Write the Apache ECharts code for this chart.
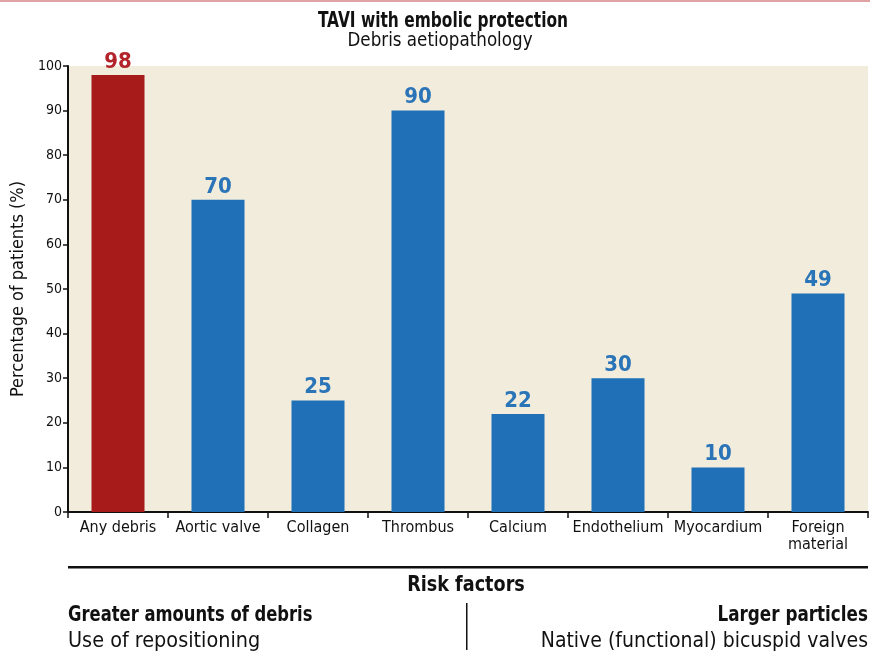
<!DOCTYPE html>
<html>
<head>
<meta charset="utf-8">
<script src="https://cdn.jsdelivr.net/npm/echarts@6/dist/echarts.min.js"></script>
<style>
html,body{margin:0;padding:0;background:#fff;}
#c{width:870px;height:657px;}
</style>
</head>
<body>
<div id="c"></div>
<script>
var categories = ['Any debris','Aortic valve','Collagen','Thrombus','Calcium','Endothelium','Myocardium','Foreign\nmaterial'];
var values = [98, 70, 25, 90, 22, 30, 10, 49];
var highlightIndex = [0];
var yTicks = [0,10,20,30,40,50,60,70,80,90,100];
var titleText = 'TAVI with embolic protection';
var subtitleText = 'Debris aetiopathology';
var yAxisName = 'Percentage of patients (%)';
var riskTitle = 'Risk factors';
var leftHead = 'Greater amounts of debris';
var leftBody = 'Use of repositioning';
var rightHead = 'Larger particles';
var rightBody = 'Native (functional) bicuspid valves';

var FONT = '"Liberation Sans Narrow","DejaVu Sans Condensed","Roboto Condensed",sans-serif';
var RED = '#a81b1b', BLUE = '#1f70b6';
var RED_L = '#b2242a', BLUE_L = '#2a74b8';

var chart = echarts.init(document.getElementById('c'), null, {renderer:'canvas'});
var data = values.map(function(v,i){
  var hi = highlightIndex.indexOf(i) >= 0;
  return {value:v, itemStyle:{color: hi?RED:BLUE}, label:{color: hi?RED_L:BLUE_L}};
});
function txt(s, x, y, size, bold, align, sx){
  return {type:'text', x:x, y:y, scaleX:sx, scaleY:1, z:10,
    style:{text:s, font:(bold?'bold ':'')+size+'px '+FONT, fill:'#111', align:align, verticalAlign:'middle'}};
}
chart.setOption({
  animation:false,
  textStyle:{fontFamily:FONT},
  grid:{left:68, right:2, top:66, bottom:145, show:true, backgroundColor:'#f1ecdc', borderWidth:0, outerBoundsMode:'none', containLabel:false},
  xAxis:{
    type:'category', data:categories,
    axisLine:{lineStyle:{color:'#111', width:2}},
    axisTick:{show:true, alignWithLabel:false, length:6, lineStyle:{color:'#111', width:1.5}},
    axisLabel:{fontFamily:FONT, fontSize:16, color:'#111', margin:7, lineHeight:17, interval:0},
    splitLine:{show:false}
  },
  yAxis:{
    type:'value', min:0, max:100, interval:10,
    name:yAxisName, nameLocation:'middle', nameGap:39, nameRotate:90,
    nameTextStyle:{fontFamily:FONT, fontSize:18, color:'#111'},
    axisLine:{show:true, lineStyle:{color:'#111', width:2}},
    axisTick:{show:true, length:5, lineStyle:{color:'#111', width:1.5}},
    axisLabel:{fontFamily:FONT, fontSize:14, color:'#111', margin:6,
      formatter:function(v){ return yTicks.indexOf(v)>=0 ? String(v) : ''; }},
    splitLine:{show:false}
  },
  series:[{
    type:'bar', data:data, barWidth:53,
    label:{show:true, position:'top', distance:2, fontFamily:FONT, fontWeight:'bold', fontSize:22}
  }],
  graphic:[
    {type:'rect', left:0, top:0, shape:{width:870, height:2}, style:{fill:'#dfa3a3'}},
    txt(titleText, 443, 21, 22, true, 'center', 0.78),
    txt(subtitleText, 440, 41, 20, false, 'center', 0.93),
    {type:'rect', left:68, top:566, shape:{width:800, height:2.5}, style:{fill:'#111'}},
    txt(riskTitle, 466, 585, 22, true, 'center', 0.89),
    {type:'rect', left:466, top:603, shape:{width:1.5, height:47}, style:{fill:'#111'}},
    txt(leftHead, 68, 616, 21, true, 'left', 0.867),
    txt(leftBody, 68, 642, 21, false, 'left', 1.02),
    txt(rightHead, 868, 616, 21, true, 'right', 0.89),
    txt(rightBody, 868, 642, 21, false, 'right', 1)
  ]
});
</script>
</body>
</html>
